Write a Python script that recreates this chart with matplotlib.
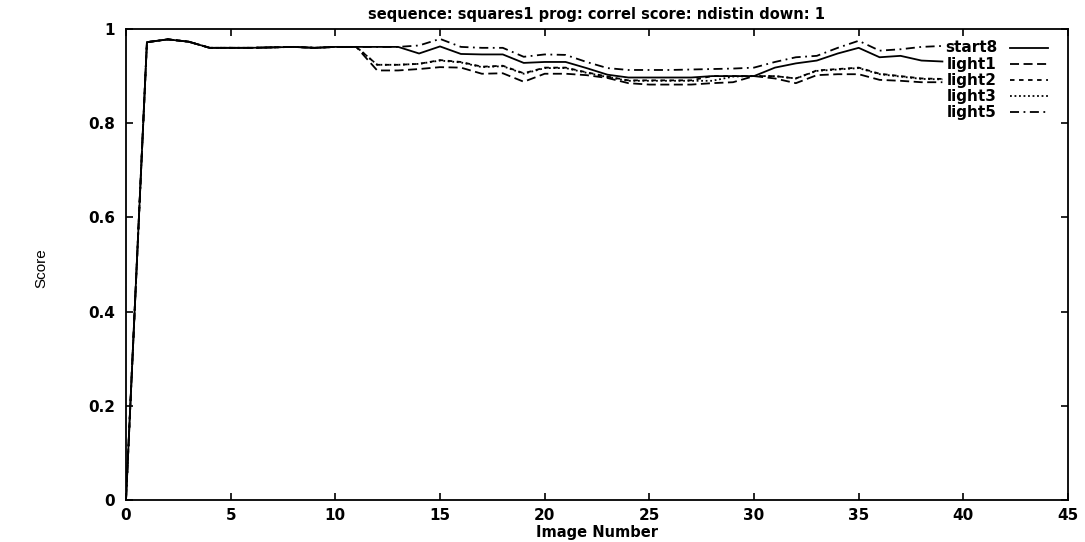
import matplotlib
matplotlib.use("Agg")
import matplotlib.pyplot as plt

# Image index and per-image correlation scores for each run
image_number = list(range(40))

start8 = [0.0, 0.972, 0.978, 0.973, 0.960, 0.960, 0.960, 0.961, 0.962, 0.960,
          0.962, 0.962, 0.962, 0.962, 0.948, 0.963, 0.947, 0.946, 0.946, 0.928,
          0.930, 0.930, 0.917, 0.903, 0.897, 0.897, 0.897, 0.897, 0.900, 0.900,
          0.900, 0.918, 0.927, 0.933, 0.948, 0.960, 0.940, 0.943, 0.933, 0.931]

light1 = [0.0, 0.972, 0.978, 0.973, 0.960, 0.960, 0.960, 0.961, 0.962, 0.960,
          0.962, 0.962, 0.912, 0.912, 0.915, 0.919, 0.918, 0.905, 0.906, 0.888,
          0.905, 0.905, 0.902, 0.896, 0.885, 0.882, 0.882, 0.882, 0.885, 0.887,
          0.900, 0.895, 0.885, 0.902, 0.904, 0.904, 0.892, 0.890, 0.887, 0.887]

light2 = [0.0, 0.972, 0.978, 0.973, 0.960, 0.960, 0.960, 0.961, 0.962, 0.960,
          0.962, 0.962, 0.924, 0.924, 0.926, 0.934, 0.930, 0.920, 0.922, 0.906,
          0.918, 0.918, 0.908, 0.899, 0.891, 0.891, 0.891, 0.891, 0.900, 0.900,
          0.900, 0.900, 0.895, 0.912, 0.915, 0.918, 0.905, 0.900, 0.895, 0.894]

light3 = [0.0, 0.972, 0.978, 0.973, 0.960, 0.960, 0.960, 0.961, 0.962, 0.960,
          0.962, 0.962, 0.924, 0.924, 0.926, 0.933, 0.929, 0.919, 0.921, 0.905,
          0.917, 0.917, 0.907, 0.898, 0.890, 0.890, 0.890, 0.890, 0.890, 0.899,
          0.900, 0.900, 0.895, 0.911, 0.914, 0.917, 0.904, 0.899, 0.894, 0.893]

light5 = [0.0, 0.972, 0.978, 0.973, 0.960, 0.960, 0.960, 0.961, 0.962, 0.960,
          0.962, 0.962, 0.962, 0.962, 0.965, 0.979, 0.962, 0.960, 0.960, 0.941,
          0.946, 0.945, 0.930, 0.917, 0.913, 0.913, 0.913, 0.914, 0.915, 0.916,
          0.918, 0.930, 0.940, 0.943, 0.960, 0.975, 0.954, 0.957, 0.962, 0.964]

x_ticks = [0, 5, 10, 15, 20, 25, 30, 35, 40, 45]
y_ticks = [0, 0.2, 0.4, 0.6, 0.8, 1.0]
y_tick_labels = ["0", "0.2", "0.4", "0.6", "0.8", "1"]

plt.rcParams["font.family"] = ["DejaVu Sans"]

W, H = 1085, 542
AX_L, AX_R, AX_T, AX_B = 126, 1068, 29, 500
fig = plt.figure(figsize=(W / 100, H / 100), dpi=100)
ax = fig.add_axes([AX_L / W, (H - AX_B) / H, (AX_R - AX_L) / W, (AX_B - AX_T) / H])

series = [
    ("start8", start8, "-"),
    ("light1", light1, (0, (5, 2.5))),
    ("light2", light2, (0, (2.5, 2.5))),
    ("light3", light3, (0, (1, 1.5))),
    ("light5", light5, (0, (5, 2.5, 1, 2.5))),
]
for name, vals, ls in series:
    ax.plot(image_number, vals, color="black", linestyle=ls, linewidth=1.3, label=name)

ax.set_xlim(0, 45)
ax.set_ylim(0, 1)
ax.set_xticks(x_ticks)
ax.set_xticklabels([str(t) for t in x_ticks])
ax.set_yticks(y_ticks)
ax.set_yticklabels(y_tick_labels)
ax.tick_params(direction="in", length=5, width=1.2, top=True, right=True,
               labelsize=11)
ax.tick_params(axis="x", pad=6)
ax.tick_params(axis="y", pad=8)
for lbl in ax.get_xticklabels() + ax.get_yticklabels():
    lbl.set_fontweight("bold")
for sp in ax.spines.values():
    sp.set_linewidth(1.3)


def ax_frac(px, py):
    """Pixel position on the canvas -> axes fraction."""
    return (px - AX_L) / (AX_R - AX_L), (AX_B - py) / (AX_B - AX_T)


fig.text((AX_L + AX_R) / 2 / W, 1 - 18.5 / H,
         "sequence: squares1 prog: correl score: ndistin down: 1",
         ha="center", va="baseline", fontsize=10.5, fontweight="bold")
fig.text((AX_L + AX_R) / 2 / W, 1 - 532 / H, "Image Number",
         ha="center", va="center", fontsize=10.5, fontweight="bold")
fig.text(41 / W, 1 - 268 / H, "Score", rotation=90, ha="center", va="center",
         fontsize=11, family=["Liberation Sans Narrow", "Liberation Sans"])

# Key in the upper right: right-aligned names followed by line samples
row_y = [48.0, 64.0, 80.0, 96.0, 112.0]
for (name, vals, ls), py in zip(series, row_y):
    tx, ty = ax_frac(997, py)
    ax.text(tx, ty, name, transform=ax.transAxes, ha="right", va="center",
            fontsize=11, fontweight="bold")
    x0, y0 = ax_frac(1010, py)
    x1, _ = ax_frac(1048, py)
    ax.plot([x0, x1], [y0, y0], transform=ax.transAxes, color="black",
            linestyle=ls, linewidth=1.3, clip_on=False)

fig.savefig("out.png", dpi=100)
